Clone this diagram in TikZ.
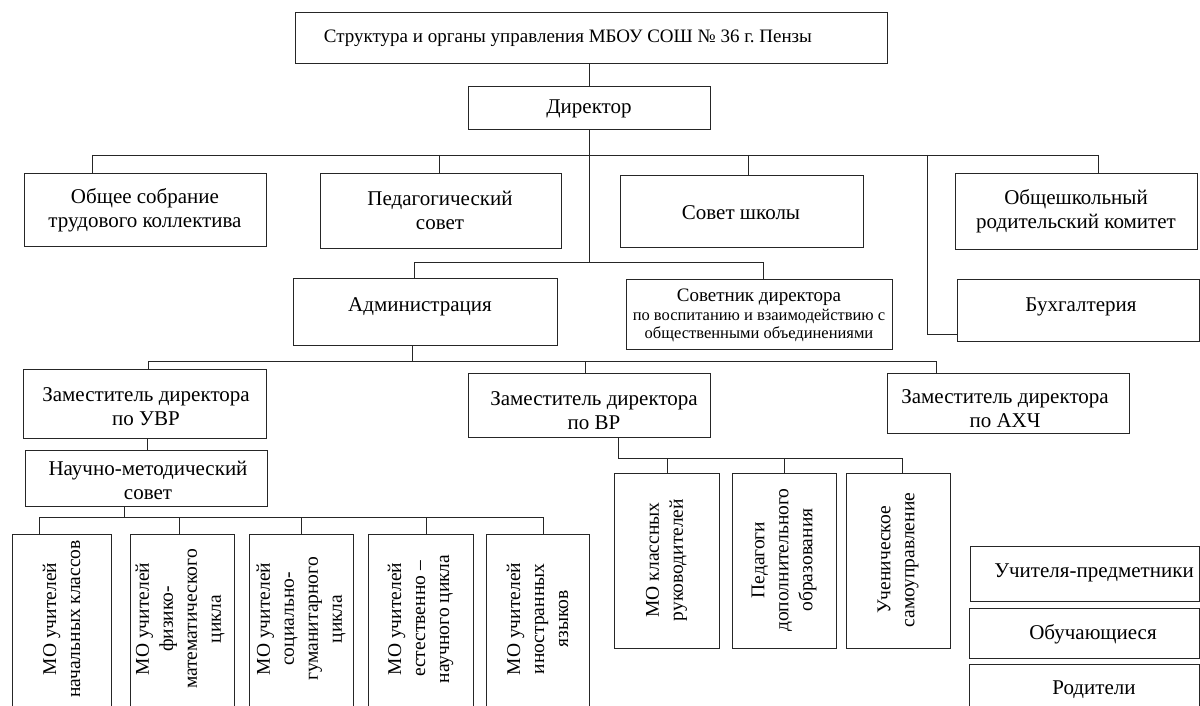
\documentclass[tikz,border=0pt]{standalone}
\usepackage{fontspec}
\setmainfont{Liberation Serif}
\newcommand{\obox}[5]{\node[box, minimum width={(#4)-(#2)}, minimum height={(#5)-(#3)}] (#1) at ({((#2)+(#4))/2},{((#3)+(#5))/2}) {};}
\begin{document}
\begin{tikzpicture}[x=1pt,y=-1pt,
  box/.style={draw=black!85, line width=1pt, rectangle, inner sep=0pt, outer sep=0pt},
  txt/.style={inner sep=0pt, align=center, font=\fontsize{21}{24}\selectfont, text=black},
  vtxt/.style={txt, rotate=90, font=\fontsize{19.5}{24}\selectfont},
  ln/.style={draw=black!85, line width=0.9pt}]
\useasboundingbox (0,0) rectangle (1200,706);
% boxes
\obox{title}{295}{13}{887}{64}
\obox{dir}{468}{87}{710}{130}
\obox{obsh}{24}{174}{266}{246}
\obox{ped}{320}{174}{561}{248}
\obox{sovsh}{620}{176}{863}{247}
\obox{roditk}{955}{174}{1197}{249}
\obox{buh}{957}{279}{1199}{341}
\obox{adm}{293}{278}{557}{345}
\obox{sovet}{626}{279}{892}{349}
\obox{zuvr}{23}{369}{266}{438}
\obox{zvr}{468}{373}{710}{437}
\obox{zahch}{887}{373}{1129}{433}
\obox{nms}{25}{450}{267}{506}
\obox{mo1}{12}{534}{111}{712}
\obox{mo2}{130}{534}{234}{712}
\obox{mo3}{249}{534}{353}{712}
\obox{mo4}{368}{534}{473}{712}
\obox{mo5}{486}{534}{589}{712}
\obox{vr1}{614}{473}{719}{648}
\obox{vr2}{732}{473}{836}{648}
\obox{vr3}{846}{473}{950}{648}
\obox{uch}{970}{546}{1199}{601}
\obox{obu}{969}{608}{1199}{658}
\obox{rod}{969}{664}{1199}{720}
% texts
\node[txt, font=\fontsize{19}{23}\selectfont] (t-title) at (568,38.5) {Структура и органы управления МБОУ СОШ №~36 г.~Пензы};
\node[txt] (t-dir) at (589,108.5) {Директор};
\node[txt] (t-obsh) at (145,210) {Общее собрание\\трудового коллектива};
\node[txt] (t-ped) at (440,210) {Педагогический\\совет};
\node[txt] (t-sovsh) at (741,213) {Совет школы};
\node[txt] (t-roditk) at (1076,211) {Общешкольный\\родительский комитет};
\node[txt] (t-buh) at (1081,307) {Бухгалтерия};
\node[txt] (t-adm) at (420,307) {Администрация};
\node[txt, font=\fontsize{19}{20}\selectfont] (t-sov1) at (759,297) {Советник директора};
\node[txt, font=\fontsize{16.5}{18}\selectfont] (t-sov2) at (759,316) {по воспитанию и взаимодействию с};
\node[txt, font=\fontsize{16.5}{18}\selectfont] (t-sov3) at (759,334) {общественными объединениями};
\node[txt] (t-zuvr) at (146,407) {Заместитель директора\\по УВР};
\node[txt] (t-zvr) at (594,411) {Заместитель директора\\по ВР};
\node[txt] (t-zahch) at (1005,409) {Заместитель директора\\по АХЧ};
\node[txt] (t-nms) at (148,480) {Научно-методический\\совет};
\node[vtxt] (t-mo1) at (61.5,619) {МО учителей\\начальных классов};
\node[vtxt] (t-mo2) at (180,619) {МО учителей\\физико-\\математического\\цикла};
\node[vtxt] (t-mo3) at (301,619) {МО учителей\\социально-\\гуманитарного\\цикла};
\node[vtxt] (t-mo4) at (420.5,619) {МО учителей\\естественно –\\научного цикла};
\node[vtxt] (t-mo5) at (537.5,619) {МО учителей\\иностранных\\языков};
\node[vtxt] (t-vr1) at (666.5,560) {МО классных\\руководителей};
\node[vtxt] (t-vr2) at (784,560) {Педагоги\\дополнительного\\образования};
\node[vtxt] (t-vr3) at (898,560) {Ученическое\\самоуправление};
\node[txt] (t-uch) at (1094,573) {Учителя-предметники};
\node[txt] (t-obu) at (1093,634) {Обучающиеся};
\node[txt] (t-rod) at (1094,690) {Родители};
% bus coordinates
\coordinate (b1l) at (92,155);
\coordinate (b1p) at (439,155);
\coordinate (b1s) at (748,155);
\coordinate (b1b) at (927,155);
\coordinate (b1r) at (1098,155);
\coordinate (buhturn) at (927,334);
\coordinate (b2) at (589,262);
\coordinate (b2l) at (414,262);
\coordinate (b2r) at (763,262);
\coordinate (a3) at (412,361);
\coordinate (b3l) at (148,361);
\coordinate (b3m) at (585,361);
\coordinate (b3r) at (936,361);
\coordinate (uvrx) at (147,444);
\coordinate (n4) at (124,517);
\coordinate (b4l) at (39,517);
\coordinate (b4a) at (179,517);
\coordinate (b4b) at (301,517);
\coordinate (b4c) at (426,517);
\coordinate (b4r) at (543,517);
\coordinate (v5) at (618,458);
\coordinate (b5a) at (667,458);
\coordinate (b5b) at (784,458);
\coordinate (b5r) at (902,458);
% connectors
\draw[ln] (title.south -| dir.north) -- (dir.north);
\draw[ln] (dir.south) -- (b2);
\draw[ln] (b1l) -- (b1r);
\draw[ln] (b1l) -- (b1l |- obsh.north);
\draw[ln] (b1p) -- (b1p |- ped.north);
\draw[ln] (b1s) -- (b1s |- sovsh.north);
\draw[ln] (b1r) -- (b1r |- roditk.north);
\draw[ln] (b1b) -- (buhturn) -- (buhturn -| buh.west);
\draw[ln] (b2l) -- (b2r);
\draw[ln] (b2l) -- (b2l |- adm.north);
\draw[ln] (b2r) -- (b2r |- sovet.north);
\draw[ln] (a3 |- adm.south) -- (a3);
\draw[ln] (b3l) -- (b3r);
\draw[ln] (b3l) -- (b3l |- zuvr.north);
\draw[ln] (b3m) -- (b3m |- zvr.north);
\draw[ln] (b3r) -- (b3r |- zahch.north);
\draw[ln] (uvrx |- zuvr.south) -- (uvrx |- nms.north);
\draw[ln] (n4 |- nms.south) -- (n4);
\draw[ln] (b4l) -- (b4r);
\draw[ln] (b4l) -- (b4l |- mo1.north);
\draw[ln] (b4a) -- (b4a |- mo2.north);
\draw[ln] (b4b) -- (b4b |- mo3.north);
\draw[ln] (b4c) -- (b4c |- mo4.north);
\draw[ln] (b4r) -- (b4r |- mo5.north);
\draw[ln] (v5 |- zvr.south) -- (v5) -- (b5r);
\draw[ln] (b5a) -- (b5a |- vr1.north);
\draw[ln] (b5b) -- (b5b |- vr2.north);
\draw[ln] (b5r) -- (b5r |- vr3.north);
\end{tikzpicture}
\end{document}
